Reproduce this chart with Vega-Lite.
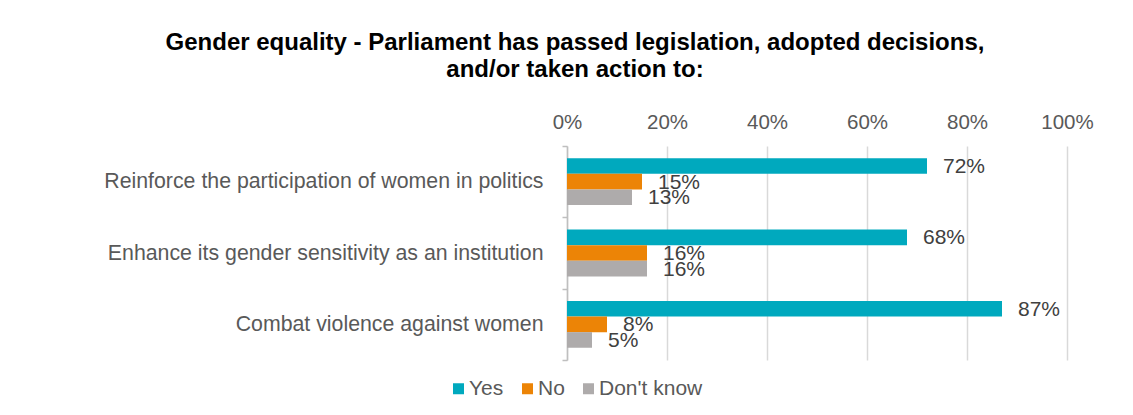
{
  "$schema": "https://vega.github.io/schema/vega-lite/v6.json",
  "width": 500,
  "height": 214,
  "autosize": {"type": "none"},
  "padding": {"left": 567, "top": 146, "right": 66, "bottom": 55},
  "background": "white",
  "config": {"view": {"stroke": null}, "font": "Liberation Sans"},
  "title": {
    "text": ["Gender equality - Parliament has passed legislation, adopted decisions,", "and/or taken action to:"],
    "anchor": "middle",
    "frame": "group",
    "dx": -242,
    "font": "Liberation Sans",
    "fontSize": 24,
    "fontWeight": "bold",
    "color": "#000000",
    "lineHeight": 27,
    "offset": 30
  },
  "data": {
    "values": [
      {"item": "Reinforce the participation of women in politics", "response": "Yes", "value": 0.72},
      {"item": "Reinforce the participation of women in politics", "response": "No", "value": 0.15},
      {"item": "Reinforce the participation of women in politics", "response": "Don't know", "value": 0.13},
      {"item": "Enhance its gender sensitivity as an institution", "response": "Yes", "value": 0.68},
      {"item": "Enhance its gender sensitivity as an institution", "response": "No", "value": 0.16},
      {"item": "Enhance its gender sensitivity as an institution", "response": "Don't know", "value": 0.16},
      {"item": "Combat violence against women", "response": "Yes", "value": 0.87},
      {"item": "Combat violence against women", "response": "No", "value": 0.08},
      {"item": "Combat violence against women", "response": "Don't know", "value": 0.05}
    ]
  },
  "encoding": {
    "y": {
      "field": "item",
      "type": "nominal",
      "sort": ["Reinforce the participation of women in politics", "Enhance its gender sensitivity as an institution", "Combat violence against women"],
      "scale": {"paddingInner": 0, "paddingOuter": 0},
      "axis": {
        "title": null,
        "orient": "left",
        "domainColor": "#BFBFBF",
        "domainWidth": 1.5,
        "tickColor": "#BFBFBF",
        "tickWidth": 1.5,
        "tickSize": 5,
        "tickBand": "extent",
        "labelPadding": 19,
        "labelFontSize": 21.3,
        "labelColor": "#595959",
        "labelFont": "Liberation Sans",
        "labelLimit": 0,
        "grid": false
      }
    },
    "yOffset": {
      "field": "response",
      "type": "nominal",
      "sort": ["Yes", "No", "Don't know"],
      "scale": {"paddingInner": 0, "paddingOuter": 0.785}
    },
    "x": {
      "field": "value",
      "type": "quantitative",
      "scale": {"domain": [0, 1], "nice": false},
      "axis": {
        "title": null,
        "orient": "top",
        "values": [0, 0.2, 0.4, 0.6, 0.8, 1],
        "format": ".0%",
        "domain": false,
        "ticks": false,
        "grid": true,
        "gridColor": "#D9D9D9",
        "gridWidth": 1.5,
        "labelPadding": 14,
        "labelFlush": false,
        "labelFontSize": 20.5,
        "labelColor": "#595959",
        "labelFont": "Liberation Sans"
      }
    }
  },
  "layer": [
    {
      "mark": {"type": "bar"},
      "encoding": {
        "color": {
          "field": "response",
          "type": "nominal",
          "sort": ["Yes", "No", "Don't know"],
          "scale": {"domain": ["Yes", "No", "Don't know"], "range": ["#00A9BE", "#EC8406", "#AEABAB"]},
          "legend": {
            "orient": "none",
            "legendX": -119,
            "legendY": 232,
            "direction": "horizontal",
            "title": null,
            "symbolType": "square",
            "symbolSize": 121,
            "symbolStrokeWidth": 0,
            "labelFontSize": 21,
            "labelColor": "#595959",
            "labelFont": "Liberation Sans",
            "columnPadding": 13,
            "labelOffset": 0
          }
        }
      }
    },
    {
      "mark": {"type": "text", "align": "left", "baseline": "middle", "dx": 16, "dy": 1, "fontSize": 21, "color": "#404040", "font": "Liberation Sans"},
      "encoding": {
        "text": {"field": "value", "type": "quantitative", "format": ".0%"}
      }
    }
  ]
}
